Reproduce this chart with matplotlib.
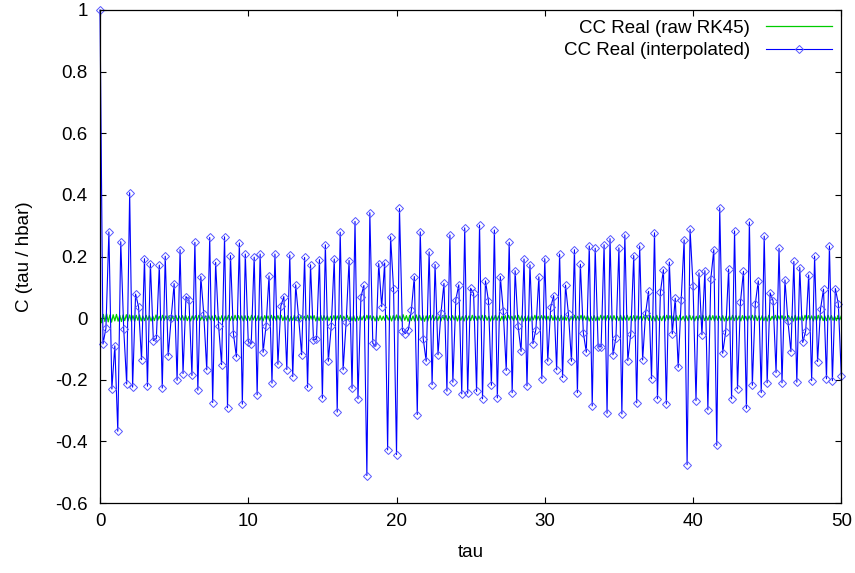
import numpy as np
import matplotlib
matplotlib.use("Agg")
import matplotlib.pyplot as plt
from matplotlib.ticker import FuncFormatter

plt.rcParams['font.family'] = ['Liberation Sans', 'DejaVu Sans']

# interpolated correlation function, one value every 0.2 in tau (0 .. 50)
cc_interp = [
    1.0, -0.084, -0.033, 0.28, -0.23, -0.09, -0.367, 0.248, -0.036, -0.214,
    0.407, -0.224, 0.078, 0.037, -0.135, 0.193, -0.221, 0.177, -0.073, -0.066,
    0.172, -0.227, 0.201, -0.122, 0.0, 0.112, -0.202, 0.222, -0.18, 0.07,
    0.059, -0.186, 0.246, -0.234, 0.135, 0.012, -0.168, 0.262, -0.274, 0.181,
    -0.025, -0.151, 0.264, -0.291, 0.203, -0.051, -0.126, 0.244, -0.279, 0.208,
    -0.077, -0.083, 0.198, -0.249, 0.208, -0.111, -0.025, 0.137, -0.211, 0.208,
    -0.15, 0.04, 0.07, -0.167, 0.205, -0.19, 0.108, 0.0, -0.119, 0.197,
    -0.225, 0.173, -0.071, -0.069, 0.19, -0.26, 0.238, -0.14, -0.025, 0.192,
    -0.305, 0.279, -0.168, -0.014, 0.187, -0.228, 0.314, -0.262, 0.07, 0.106,
    -0.511, 0.342, -0.082, -0.091, 0.177, 0.037, 0.179, -0.428, 0.264, 0.094,
    -0.443, 0.356, -0.041, -0.05, -0.037, 0.025, 0.135, -0.313, 0.28, -0.067,
    -0.14, 0.215, -0.216, 0.174, -0.119, 0.018, 0.113, -0.237, 0.27, -0.208,
    0.06, 0.108, -0.246, 0.293, -0.244, 0.097, 0.08, -0.238, 0.302, -0.262,
    0.121, 0.056, -0.218, 0.286, -0.259, 0.135, 0.023, -0.17, 0.246, -0.242,
    0.154, -0.026, -0.108, 0.192, -0.22, 0.173, -0.083, -0.037, 0.134, -0.197,
    0.193, -0.14, 0.036, 0.073, -0.168, 0.208, -0.193, 0.107, 0.012, -0.14,
    0.222, -0.242, 0.175, -0.047, -0.111, 0.234, -0.285, 0.227, -0.093, -0.093,
    0.238, -0.309, 0.258, -0.119, -0.063, 0.228, -0.311, 0.27, -0.138, -0.05,
    0.203, -0.275, 0.234, -0.136, 0.016, 0.087, -0.197, 0.277, -0.262, 0.085,
    0.157, -0.279, 0.182, -0.051, 0.065, -0.16, 0.059, 0.254, -0.476, 0.288,
    0.105, -0.268, 0.147, -0.054, 0.154, -0.298, 0.128, 0.222, -0.413, 0.358,
    -0.114, -0.045, 0.159, -0.262, 0.283, -0.23, 0.053, 0.152, -0.293, 0.312,
    -0.218, 0.047, 0.121, -0.242, 0.266, -0.21, 0.082, 0.056, -0.177, 0.227,
    -0.21, 0.124, -0.01, -0.109, 0.184, -0.208, 0.164, -0.079, -0.041, 0.14,
    -0.203, 0.201, -0.141, 0.03, 0.094, -0.197, 0.234, -0.203, 0.096, 0.046,
    -0.187,
]

# raw RK45 output, one value every 0.1 in tau (0 .. 50), small ripple around zero
cc_raw = [
    0.013, -0.015, 0.012, -0.011, 0.014, -0.012, 0.010, -0.013, 0.011, -0.009,
    0.012, -0.010, 0.009, -0.011, 0.010, -0.008, 0.011, -0.009, 0.010, -0.010,
    0.008, -0.010, 0.009, -0.007, 0.010, -0.009, 0.007, -0.008, 0.009, -0.006,
    0.008, -0.009, 0.007, -0.008, 0.010, -0.007, 0.006, -0.008, 0.009, -0.007,
    0.007, -0.006, 0.008, -0.009, 0.006, -0.007, 0.009, -0.008, 0.007, -0.006,
    0.008, -0.007, 0.009, -0.008, 0.006, -0.009, 0.007, -0.006, 0.008, -0.007,
    0.009, -0.007, 0.006, -0.008, 0.007, -0.009, 0.008, -0.006, 0.007, -0.008,
    0.009, -0.007, 0.006, -0.007, 0.008, -0.009, 0.007, -0.006, 0.009, -0.008,
    0.006, -0.008, 0.009, -0.007, 0.008, -0.006, 0.007, -0.009, 0.008, -0.007,
    0.006, -0.008, 0.009, -0.006, 0.007, -0.008, 0.008, -0.007, 0.006, -0.009,
    0.008, -0.006, 0.007, -0.009, 0.009, -0.007, 0.006, -0.008, 0.008, -0.006,
    0.009, -0.008, 0.007, -0.006, 0.008, -0.009, 0.006, -0.007, 0.009, -0.008,
    0.007, -0.009, 0.008, -0.006, 0.006, -0.008, 0.009, -0.007, 0.007, -0.006,
    0.008, -0.009, 0.006, -0.008, 0.009, -0.007, 0.008, -0.006, 0.007, -0.008,
    0.006, -0.007, 0.008, -0.009, 0.007, -0.006, 0.009, -0.008, 0.006, -0.007,
    0.009, -0.006, 0.007, -0.008, 0.008, -0.009, 0.006, -0.007, 0.008, -0.006,
    0.007, -0.008, 0.009, -0.006, 0.008, -0.007, 0.006, -0.009, 0.007, -0.008,
    0.008, -0.007, 0.006, -0.008, 0.009, -0.006, 0.007, -0.009, 0.008, -0.007,
    0.010, -0.008, 0.007, -0.009, 0.011, -0.007, 0.008, -0.010, 0.009, -0.008,
    0.007, -0.009, 0.010, -0.008, 0.009, -0.007, 0.008, -0.010, 0.007, -0.009,
    0.008, -0.006, 0.009, -0.007, 0.006, -0.008, 0.007, -0.009, 0.008, -0.006,
    0.009, -0.008, 0.006, -0.007, 0.008, -0.006, 0.007, -0.009, 0.009, -0.007,
    0.006, -0.009, 0.008, -0.006, 0.007, -0.008, 0.009, -0.007, 0.006, -0.008,
    0.007, -0.006, 0.009, -0.008, 0.008, -0.007, 0.006, -0.009, 0.007, -0.006,
    0.009, -0.007, 0.007, -0.008, 0.006, -0.009, 0.008, -0.007, 0.009, -0.006,
    0.006, -0.008, 0.008, -0.006, 0.009, -0.007, 0.007, -0.009, 0.006, -0.008,
    0.008, -0.009, 0.007, -0.006, 0.009, -0.008, 0.006, -0.007, 0.008, -0.006,
    0.007, -0.008, 0.006, -0.009, 0.008, -0.007, 0.009, -0.006, 0.007, -0.008,
    0.009, -0.006, 0.008, -0.007, 0.007, -0.009, 0.006, -0.008, 0.009, -0.007,
    0.006, -0.007, 0.009, -0.008, 0.007, -0.006, 0.008, -0.009, 0.006, -0.007,
    0.008, -0.008, 0.006, -0.007, 0.009, -0.006, 0.007, -0.009, 0.008, -0.006,
    0.007, -0.009, 0.008, -0.006, 0.006, -0.008, 0.009, -0.007, 0.008, -0.006,
    0.009, -0.007, 0.006, -0.008, 0.008, -0.009, 0.007, -0.006, 0.006, -0.008,
    0.007, -0.006, 0.009, -0.007, 0.008, -0.008, 0.006, -0.009, 0.009, -0.007,
    0.006, -0.008, 0.007, -0.009, 0.009, -0.006, 0.008, -0.007, 0.007, -0.008,
    0.008, -0.007, 0.009, -0.006, 0.006, -0.009, 0.007, -0.008, 0.009, -0.006,
    0.007, -0.009, 0.006, -0.007, 0.008, -0.006, 0.009, -0.008, 0.006, -0.007,
    0.009, -0.006, 0.008, -0.009, 0.007, -0.007, 0.006, -0.008, 0.008, -0.009,
    0.006, -0.008, 0.007, -0.006, 0.009, -0.008, 0.008, -0.006, 0.007, -0.009,
    0.008, -0.007, 0.006, -0.009, 0.007, -0.006, 0.009, -0.007, 0.008, -0.008,
    0.007, -0.006, 0.008, -0.008, 0.006, -0.009, 0.009, -0.007, 0.006, -0.006,
    0.009, -0.008, 0.007, -0.006, 0.008, -0.007, 0.006, -0.009, 0.008, -0.007,
    0.006, -0.009, 0.009, -0.007, 0.007, -0.006, 0.008, -0.008, 0.009, -0.006,
    0.008, -0.006, 0.007, -0.009, 0.006, -0.008, 0.009, -0.007, 0.007, -0.008,
    0.007, -0.008, 0.009, -0.006, 0.008, -0.007, 0.006, -0.008, 0.009, -0.006,
    0.007,
]

x_ticks = [0, 10, 20, 30, 40, 50]
y_ticks = [-0.6, -0.4, -0.2, 0, 0.2, 0.4, 0.6, 0.8, 1]

tau_interp = np.linspace(0, 50, len(cc_interp))
tau_raw = np.linspace(0, 50, len(cc_raw))

fig = plt.figure(figsize=(8.55, 5.73), dpi=100)
ax = fig.add_axes([100 / 855, 70 / 573, 741.3 / 855, 493 / 573])

ax.plot(tau_raw, cc_raw, color='#00cc00', lw=0.9, label='CC Real (raw RK45)')
ax.plot(tau_interp, cc_interp, color='#0000ff', lw=0.8, marker='D', ms=3.6,
        mfc='none', mec='#5555ff', mew=0.7, clip_on=False,
        label='CC Real (interpolated)')

ax.set_xlim(0, 50)
ax.set_ylim(-0.6, 1)
ax.set_xticks(x_ticks)
ax.set_yticks(y_ticks)
ax.yaxis.set_major_formatter(FuncFormatter(lambda v, p: '%g' % round(v, 2)))
ax.tick_params(direction='in', top=True, right=True, length=4, width=0.8,
               labelsize=13.5)
ax.tick_params(axis='x', pad=7)
ax.tick_params(axis='y', pad=9)
for sp in ax.spines.values():
    sp.set_linewidth(0.9)

ax.set_xlabel('tau', fontsize=13.5, labelpad=10)
ax.set_ylabel('C (tau / hbar)', fontsize=13.5, labelpad=16)

leg = ax.legend(loc='upper right', frameon=False, markerfirst=False,
                fontsize=13.5, handlelength=3.5, handletextpad=0.85,
                labelspacing=0.28, borderaxespad=0.12)

fig.savefig('out.png', dpi=100)
